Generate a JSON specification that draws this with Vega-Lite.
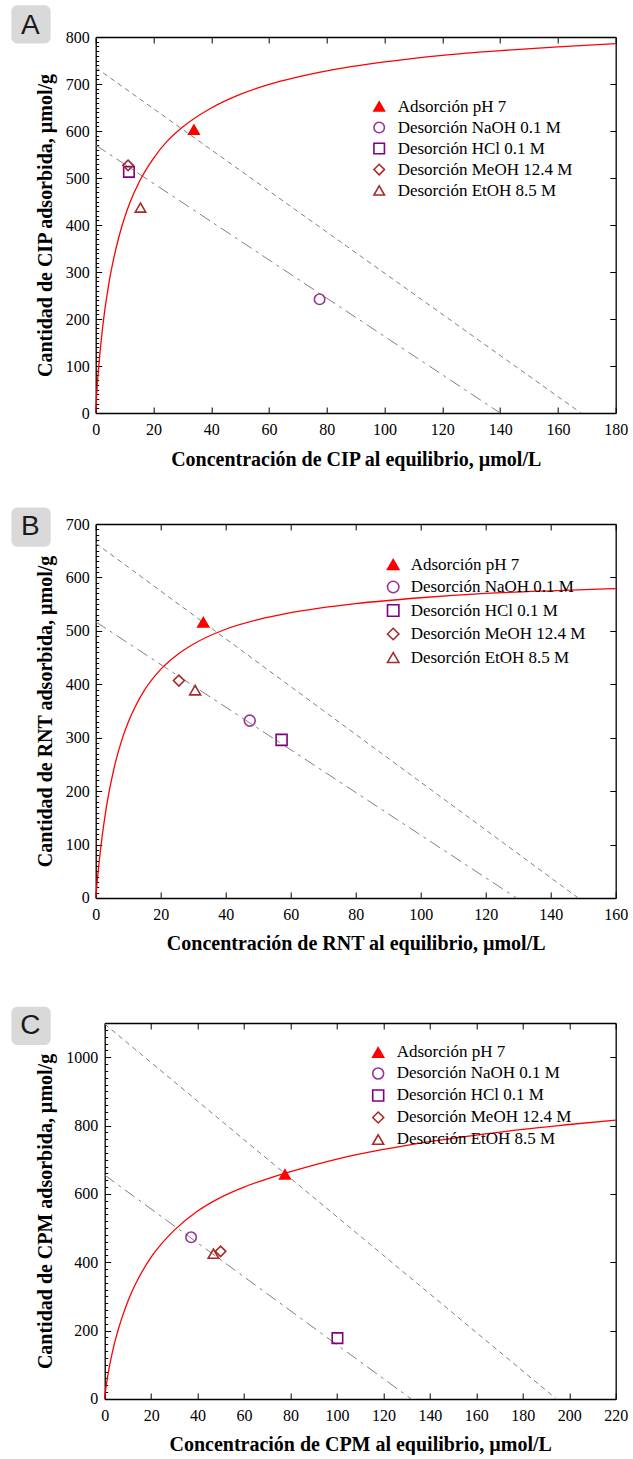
{
  "$schema": "https://vega.github.io/schema/vega-lite/v6.json",
  "background": "white",
  "padding": {"left": 10.7, "top": 5, "right": 0, "bottom": 0},
  "config": {
    "font": "Liberation Serif",
    "view": {"stroke": null},
    "style": {"guide-label": {"font": "Liberation Serif"}, "guide-title": {"font": "Liberation Serif"}},
    "axis": {"domainColor": "#000000", "domainWidth": 1.3, "tickColor": "#000000", "tickWidth": 1, "labelColor": "#000000", "labelFont": "Liberation Serif", "labelFontSize": 16, "titleColor": "#000000", "titleFont": "Liberation Serif", "titleFontSize": 20, "titleFontWeight": "bold", "grid": false, "labelFlush": false, "labelOverlap": false, "format": "d"},
    "legend": {"labelFont": "Liberation Serif", "labelFontSize": 17, "labelColor": "#000000", "labelLimit": 0, "padding": 0, "symbolStrokeWidth": 1.6}
  },
  "datasets": {
    "curvaA": [{"c":0,"q":0},{"c":0.2,"q":25},{"c":0.5,"q":55},{"c":1,"q":95},{"c":2,"q":160},{"c":3,"q":212},{"c":4,"q":254},{"c":5,"q":291},{"c":6,"q":322},{"c":8,"q":374},{"c":10,"q":416},{"c":12,"q":450},{"c":15,"q":491},{"c":20,"q":542},{"c":25,"q":580},{"c":30,"q":608},{"c":40,"q":649},{"c":50,"q":678},{"c":60,"q":699},{"c":80,"q":728},{"c":100,"q":747},{"c":120,"q":761},{"c":140,"q":771},{"c":160,"q":779},{"c":180,"q":786}],
    "rectasA": [{"recta":"sup","c":0,"q":735},{"recta":"sup","c":168,"q":0},{"recta":"inf","c":0,"q":570},{"recta":"inf","c":140,"q":0}],
    "puntosA": [{"serie":"Adsorción pH 7","c":34,"q":603},{"serie":"Desorción NaOH 0.1 M","c":77.5,"q":242},{"serie":"Desorción HCl 0.1 M","c":11.5,"q":513},{"serie":"Desorción MeOH 12.4 M","c":11.2,"q":527},{"serie":"Desorción EtOH 8.5 M","c":15.5,"q":437}],
    "curvaB": [{"c":0,"q":0},{"c":0.5,"q":34},{"c":1,"q":64},{"c":2,"q":116},{"c":3,"q":159},{"c":4,"q":195},{"c":5,"q":225},{"c":6,"q":252},{"c":8,"q":295},{"c":10,"q":329},{"c":12,"q":356},{"c":15,"q":389},{"c":20,"q":428},{"c":25,"q":455},{"c":30,"q":475},{"c":40,"q":503},{"c":50,"q":521},{"c":60,"q":534},{"c":80,"q":551},{"c":100,"q":562},{"c":120,"q":570},{"c":140,"q":575},{"c":160,"q":579}],
    "rectasB": [{"recta":"sup","c":0,"q":664},{"recta":"sup","c":148.5,"q":0},{"recta":"inf","c":0,"q":517},{"recta":"inf","c":129.5,"q":0}],
    "puntosB": [{"serie":"Adsorción pH 7","c":33.1,"q":516},{"serie":"Desorción NaOH 0.1 M","c":47.4,"q":332},{"serie":"Desorción HCl 0.1 M","c":57.2,"q":296},{"serie":"Desorción MeOH 12.4 M","c":25.6,"q":407},{"serie":"Desorción EtOH 8.5 M","c":30.6,"q":389}],
    "curvaC": [{"c":0,"q":0},{"c":0.2,"q":15},{"c":0.5,"q":31},{"c":1,"q":54},{"c":2,"q":94},{"c":3,"q":127},{"c":4,"q":157},{"c":5,"q":183},{"c":6,"q":207},{"c":8,"q":249},{"c":10,"q":286},{"c":12,"q":318},{"c":15,"q":359},{"c":20,"q":415},{"c":25,"q":458},{"c":30,"q":494},{"c":40,"q":550},{"c":50,"q":590},{"c":60,"q":620},{"c":70,"q":644},{"c":80,"q":665},{"c":100,"q":702},{"c":120,"q":730},{"c":140,"q":753},{"c":160,"q":772},{"c":180,"q":789},{"c":200,"q":803},{"c":220,"q":816}],
    "rectasC": [{"recta":"sup","c":0,"q":1097},{"recta":"sup","c":194.5,"q":0},{"recta":"inf","c":0,"q":655},{"recta":"inf","c":132,"q":0}],
    "puntosC": [{"serie":"Adsorción pH 7","c":77.6,"q":657},{"serie":"Desorción NaOH 0.1 M","c":37.2,"q":473},{"serie":"Desorción HCl 0.1 M","c":100.2,"q":178},{"serie":"Desorción MeOH 12.4 M","c":49.9,"q":432},{"serie":"Desorción EtOH 8.5 M","c":46.8,"q":425}]
  },
  "resolve": {"scale": {"shape": "independent", "stroke": "independent", "fill": "independent"}, "legend": {"shape": "independent", "stroke": "independent", "fill": "independent"}},
  "spacing": 52,
  "vconcat": [
    {
      "spacing": 38,
      "resolve": {"scale": {"shape": "independent", "stroke": "independent", "fill": "independent"}, "legend": {"shape": "independent", "stroke": "independent", "fill": "independent"}},
      "vconcat": [
        {
          "width": 520,
          "height": 376,
          "resolve": {"axis": {"x": "independent", "y": "independent"}},
          "layer": [
            {
              "data": {"name": "rectasA"},
              "transform": [{"filter": "datum.recta == 'sup'"}],
              "mark": {"type": "line", "color": "#808080", "strokeWidth": 1, "strokeDash": [5, 4]},
              "encoding": {
                "x": {"field": "c", "type": "quantitative", "scale": {"domain": [0, 180], "nice": false}, "axis": {"orient": "top", "values": [0,20,40,60,80,100,120,140,160,180], "tickSize": -6, "labels": false, "title": null}},
                "y": {"field": "q", "type": "quantitative", "scale": {"domain": [0, 800], "nice": false}, "axis": {"orient": "right", "values": [0,100,200,300,400,500,600,700,800], "tickSize": -6, "labels": false, "title": null}}
              }
            },
            {
              "data": {"name": "rectasA"},
              "transform": [{"filter": "datum.recta == 'inf'"}],
              "mark": {"type": "line", "color": "#808080", "strokeWidth": 1, "strokeDash": [12, 5, 3, 5]},
              "encoding": {
                "x": {"field": "c", "type": "quantitative", "scale": {"domain": [0, 180], "nice": false}, "axis": null},
                "y": {"field": "q", "type": "quantitative", "scale": {"domain": [0, 800], "nice": false}, "axis": {"orient": "left", "values": [10,20,30,40,50,60,70,80,90,110,120,130,140,150,160,170,180,190,210,220,230,240,250,260,270,280,290,310,320,330,340,350,360,370,380,390,410,420,430,440,450,460,470,480,490,510,520,530,540,550,560,570,580,590,610,620,630,640,650,660,670,680,690,710,720,730,740,750,760,770,780,790], "tickSize": -3, "labels": false, "domain": false, "title": null}}
              }
            },
            {
              "data": {"name": "curvaA"},
              "mark": {"type": "line", "color": "#ff0000", "strokeWidth": 1.3, "interpolate": "monotone"},
              "encoding": {
                "x": {"field": "c", "type": "quantitative", "scale": {"domain": [0, 180], "nice": false}, "axis": {"orient": "bottom", "values": [0,20,40,60,80,100,120,140,160,180], "tickSize": -6, "labelFont": "Liberation Serif", "labelPadding": 14.5, "title": "Concentración de CIP al equilibrio, µmol/L", "titlePadding": 11.5}},
                "y": {"field": "q", "type": "quantitative", "scale": {"domain": [0, 800], "nice": false}, "axis": {"orient": "left", "values": [0,100,200,300,400,500,600,700,800], "tickSize": -6, "labelFont": "Liberation Serif", "labelPadding": 12.5, "title": "Cantidad de CIP adsorbida, µmol/g", "titlePadding": 10}}
              }
            },
            {
              "data": {"name": "puntosA"},
              "mark": {"type": "point", "size": 110, "strokeWidth": 1.6, "opacity": 1},
              "encoding": {
                "x": {"field": "c", "type": "quantitative", "scale": {"domain": [0, 180], "nice": false}, "axis": null},
                "y": {"field": "q", "type": "quantitative", "scale": {"domain": [0, 800], "nice": false}, "axis": null},
                "shape": {"field": "serie", "type": "nominal", "scale": {"domain": ["Adsorción pH 7","Desorción NaOH 0.1 M","Desorción HCl 0.1 M","Desorción MeOH 12.4 M","Desorción EtOH 8.5 M"], "range": ["triangle-up","circle","square","diamond","triangle-up"]}, "legend": {"title": null, "orient": "none", "legendX": 275, "legendY": 61, "symbolSize": 110, "rowPadding": 3, "labelOffset": 10}},
                "stroke": {"field": "serie", "type": "nominal", "scale": {"domain": ["Adsorción pH 7","Desorción NaOH 0.1 M","Desorción HCl 0.1 M","Desorción MeOH 12.4 M","Desorción EtOH 8.5 M"], "range": ["#ff0000","#993399","#800080","#a52a2a","#a52a2a"]}, "legend": {"title": null, "orient": "none", "legendX": 275, "legendY": 61, "symbolSize": 110, "rowPadding": 3, "labelOffset": 10}},
                "fill": {"field": "serie", "type": "nominal", "scale": {"domain": ["Adsorción pH 7","Desorción NaOH 0.1 M","Desorción HCl 0.1 M","Desorción MeOH 12.4 M","Desorción EtOH 8.5 M"], "range": ["#ff0000","transparent","transparent","transparent","transparent"]}, "legend": {"title": null, "orient": "none", "legendX": 275, "legendY": 61, "symbolSize": 110, "rowPadding": 3, "labelOffset": 10}}
              }
            },
            {
              "data": {"values": [{"panel": "A"}]},
              "mark": {"type": "rect", "fill": "#d9d9d9", "cornerRadius": 6},
              "encoding": {
                "x": {"datum": -29.2, "type": "quantitative", "scale": {"domain": [0, 180], "nice": false}, "axis": null},
                "x2": {"datum": -15.6},
                "y": {"datum": 867.4, "type": "quantitative", "scale": {"domain": [0, 800], "nice": false}, "axis": null},
                "y2": {"datum": 786}
              }
            },
            {
              "data": {"values": [{"panel": "A"}]},
              "mark": {"type": "text", "font": "Liberation Sans", "fontSize": 28, "color": "#1a1a1a", "align": "center", "baseline": "middle"},
              "encoding": {
                "x": {"datum": -22.6, "type": "quantitative", "scale": {"domain": [0, 180], "nice": false}, "axis": null},
                "y": {"datum": 823.8, "type": "quantitative", "scale": {"domain": [0, 800], "nice": false}, "axis": null},
                "text": {"field": "panel"}
              }
            }
          ]
        },
        {
          "width": 520,
          "height": 374,
          "resolve": {"axis": {"x": "independent", "y": "independent"}},
          "layer": [
            {
              "data": {"name": "rectasB"},
              "transform": [{"filter": "datum.recta == 'sup'"}],
              "mark": {"type": "line", "color": "#808080", "strokeWidth": 1, "strokeDash": [5, 4]},
              "encoding": {
                "x": {"field": "c", "type": "quantitative", "scale": {"domain": [0, 160], "nice": false}, "axis": {"orient": "top", "values": [0,20,40,60,80,100,120,140,160], "tickSize": -6, "labels": false, "title": null}},
                "y": {"field": "q", "type": "quantitative", "scale": {"domain": [0, 700], "nice": false}, "axis": {"orient": "right", "values": [0,100,200,300,400,500,600,700], "tickSize": -6, "labels": false, "title": null}}
              }
            },
            {
              "data": {"name": "rectasB"},
              "transform": [{"filter": "datum.recta == 'inf'"}],
              "mark": {"type": "line", "color": "#808080", "strokeWidth": 1, "strokeDash": [12, 5, 3, 5]},
              "encoding": {
                "x": {"field": "c", "type": "quantitative", "scale": {"domain": [0, 160], "nice": false}, "axis": null},
                "y": {"field": "q", "type": "quantitative", "scale": {"domain": [0, 700], "nice": false}, "axis": {"orient": "left", "values": [10,20,30,40,50,60,70,80,90,110,120,130,140,150,160,170,180,190,210,220,230,240,250,260,270,280,290,310,320,330,340,350,360,370,380,390,410,420,430,440,450,460,470,480,490,510,520,530,540,550,560,570,580,590,610,620,630,640,650,660,670,680,690], "tickSize": -3, "labels": false, "domain": false, "title": null}}
              }
            },
            {
              "data": {"name": "curvaB"},
              "mark": {"type": "line", "color": "#ff0000", "strokeWidth": 1.3, "interpolate": "monotone"},
              "encoding": {
                "x": {"field": "c", "type": "quantitative", "scale": {"domain": [0, 160], "nice": false}, "axis": {"orient": "bottom", "values": [0,20,40,60,80,100,120,140,160], "tickSize": -6, "labelFont": "Liberation Serif", "labelPadding": 14.5, "title": "Concentración de RNT al equilibrio, µmol/L", "titlePadding": 11.5}},
                "y": {"field": "q", "type": "quantitative", "scale": {"domain": [0, 700], "nice": false}, "axis": {"orient": "left", "values": [0,100,200,300,400,500,600,700], "tickSize": -6, "labelFont": "Liberation Serif", "labelPadding": 12.5, "title": "Cantidad de RNT adsorbida, µmol/g", "titlePadding": 10}}
              }
            },
            {
              "data": {"name": "puntosB"},
              "mark": {"type": "point", "size": 120, "strokeWidth": 1.6, "opacity": 1},
              "encoding": {
                "x": {"field": "c", "type": "quantitative", "scale": {"domain": [0, 160], "nice": false}, "axis": null},
                "y": {"field": "q", "type": "quantitative", "scale": {"domain": [0, 700], "nice": false}, "axis": null},
                "shape": {"field": "serie", "type": "nominal", "scale": {"domain": ["Adsorción pH 7","Desorción NaOH 0.1 M","Desorción HCl 0.1 M","Desorción MeOH 12.4 M","Desorción EtOH 8.5 M"], "range": ["triangle-up","circle","square","diamond","triangle-up"]}, "legend": {"title": null, "orient": "none", "legendX": 289, "legendY": 32, "symbolSize": 130, "rowPadding": 4.5, "labelOffset": 9}},
                "stroke": {"field": "serie", "type": "nominal", "scale": {"domain": ["Adsorción pH 7","Desorción NaOH 0.1 M","Desorción HCl 0.1 M","Desorción MeOH 12.4 M","Desorción EtOH 8.5 M"], "range": ["#ff0000","#993399","#800080","#a52a2a","#a52a2a"]}, "legend": {"title": null, "orient": "none", "legendX": 289, "legendY": 32, "symbolSize": 130, "rowPadding": 4.5, "labelOffset": 9}},
                "fill": {"field": "serie", "type": "nominal", "scale": {"domain": ["Adsorción pH 7","Desorción NaOH 0.1 M","Desorción HCl 0.1 M","Desorción MeOH 12.4 M","Desorción EtOH 8.5 M"], "range": ["#ff0000","transparent","transparent","transparent","transparent"]}, "legend": {"title": null, "orient": "none", "legendX": 289, "legendY": 32, "symbolSize": 130, "rowPadding": 4.5, "labelOffset": 9}}
              }
            },
            {
              "data": {"values": [{"panel": "B"}]},
              "mark": {"type": "rect", "fill": "#d9d9d9", "cornerRadius": 6},
              "encoding": {
                "x": {"datum": -25.94, "type": "quantitative", "scale": {"domain": [0, 160], "nice": false}, "axis": null},
                "x2": {"datum": -13.85},
                "y": {"datum": 731.1, "type": "quantitative", "scale": {"domain": [0, 700], "nice": false}, "axis": null},
                "y2": {"datum": 657.5}
              }
            },
            {
              "data": {"values": [{"panel": "B"}]},
              "mark": {"type": "text", "font": "Liberation Sans", "fontSize": 28, "color": "#1a1a1a", "align": "center", "baseline": "middle"},
              "encoding": {
                "x": {"datum": -20.1, "type": "quantitative", "scale": {"domain": [0, 160], "nice": false}, "axis": null},
                "y": {"datum": 693.6, "type": "quantitative", "scale": {"domain": [0, 700], "nice": false}, "axis": null},
                "text": {"field": "panel"}
              }
            }
          ]
        }
      ]
    },
    {
      "width": 520,
      "height": 376,
      "resolve": {"axis": {"x": "independent", "y": "independent"}},
      "layer": [
        {
          "data": {"name": "rectasC"},
          "transform": [{"filter": "datum.recta == 'sup'"}],
          "mark": {"type": "line", "color": "#808080", "strokeWidth": 1, "strokeDash": [5, 4]},
          "encoding": {
            "x": {"field": "c", "type": "quantitative", "scale": {"domain": [0, 220], "range": [9, 520], "nice": false}, "axis": {"orient": "top", "values": [0,20,40,60,80,100,120,140,160,180,200,220], "tickSize": -6, "labels": false, "title": null}},
            "y": {"field": "q", "type": "quantitative", "scale": {"domain": [0, 1100], "nice": false}, "axis": {"orient": "right", "values": [0,200,400,600,800,1000], "tickSize": -6, "labels": false, "title": null}}
          }
        },
        {
          "data": {"name": "rectasC"},
          "transform": [{"filter": "datum.recta == 'inf'"}],
          "mark": {"type": "line", "color": "#808080", "strokeWidth": 1, "strokeDash": [12, 5, 3, 5]},
          "encoding": {
            "x": {"field": "c", "type": "quantitative", "scale": {"domain": [0, 220], "range": [9, 520], "nice": false}, "axis": null},
            "y": {"field": "q", "type": "quantitative", "scale": {"domain": [0, 1100], "nice": false}, "axis": {"orient": "left", "offset": -9, "values": [20,40,60,80,100,120,140,160,180,220,240,260,280,300,320,340,360,380,420,440,460,480,500,520,540,560,580,620,640,660,680,700,720,740,760,780,820,840,860,880,900,920,940,960,980,1020,1040,1060,1080], "tickSize": -3, "labels": false, "domain": false, "title": null}}
          }
        },
        {
          "data": {"name": "curvaC"},
          "mark": {"type": "line", "color": "#ff0000", "strokeWidth": 1.3, "interpolate": "monotone"},
          "encoding": {
            "x": {"field": "c", "type": "quantitative", "scale": {"domain": [0, 220], "range": [9, 520], "nice": false}, "axis": {"orient": "bottom", "values": [0,20,40,60,80,100,120,140,160,180,200,220], "tickSize": -6, "labelFont": "Liberation Serif", "labelPadding": 14.5, "title": "Concentración de CPM al equilibrio, µmol/L", "titlePadding": 11.5}},
            "y": {"field": "q", "type": "quantitative", "scale": {"domain": [0, 1100], "nice": false}, "axis": {"orient": "left", "offset": -9, "values": [0,200,400,600,800,1000], "tickSize": -6, "labelFont": "Liberation Serif", "labelPadding": 13, "title": "Cantidad de CPM adsorbida, µmol/g", "titlePadding": 10}}
          }
        },
        {
          "data": {"name": "puntosC"},
          "mark": {"type": "point", "size": 110, "strokeWidth": 1.6, "opacity": 1},
          "encoding": {
            "x": {"field": "c", "type": "quantitative", "scale": {"domain": [0, 220], "range": [9, 520], "nice": false}, "axis": null},
            "y": {"field": "q", "type": "quantitative", "scale": {"domain": [0, 1100], "nice": false}, "axis": null},
            "shape": {"field": "serie", "type": "nominal", "scale": {"domain": ["Adsorción pH 7","Desorción NaOH 0.1 M","Desorción HCl 0.1 M","Desorción MeOH 12.4 M","Desorción EtOH 8.5 M"], "range": ["triangle-up","circle","square","diamond","triangle-up"]}, "legend": {"title": null, "orient": "none", "legendX": 274, "legendY": 21, "symbolSize": 120, "rowPadding": 3, "labelOffset": 10}},
            "stroke": {"field": "serie", "type": "nominal", "scale": {"domain": ["Adsorción pH 7","Desorción NaOH 0.1 M","Desorción HCl 0.1 M","Desorción MeOH 12.4 M","Desorción EtOH 8.5 M"], "range": ["#ff0000","#993399","#800080","#a52a2a","#a52a2a"]}, "legend": {"title": null, "orient": "none", "legendX": 274, "legendY": 21, "symbolSize": 120, "rowPadding": 3, "labelOffset": 10}},
            "fill": {"field": "serie", "type": "nominal", "scale": {"domain": ["Adsorción pH 7","Desorción NaOH 0.1 M","Desorción HCl 0.1 M","Desorción MeOH 12.4 M","Desorción EtOH 8.5 M"], "range": ["#ff0000","transparent","transparent","transparent","transparent"]}, "legend": {"title": null, "orient": "none", "legendX": 274, "legendY": 21, "symbolSize": 120, "rowPadding": 3, "labelOffset": 10}}
          }
        },
        {
          "data": {"values": [{"panel": "C"}]},
          "mark": {"type": "rect", "fill": "#d9d9d9", "cornerRadius": 6},
          "encoding": {
            "x": {"datum": -40.17, "type": "quantitative", "scale": {"domain": [0, 220], "range": [9, 520], "nice": false}, "axis": null},
            "x2": {"datum": -23.25},
            "y": {"datum": 1147.7, "type": "quantitative", "scale": {"domain": [0, 1100], "nice": false}, "axis": null},
            "y2": {"datum": 1035.6}
          }
        },
        {
          "data": {"values": [{"panel": "C"}]},
          "mark": {"type": "text", "font": "Liberation Sans", "fontSize": 28, "color": "#1a1a1a", "align": "center", "baseline": "middle"},
          "encoding": {
            "x": {"datum": -31.96, "type": "quantitative", "scale": {"domain": [0, 220], "range": [9, 520], "nice": false}, "axis": null},
            "y": {"datum": 1091, "type": "quantitative", "scale": {"domain": [0, 1100], "nice": false}, "axis": null},
            "text": {"field": "panel"}
          }
        }
      ]
    }
  ]
}
